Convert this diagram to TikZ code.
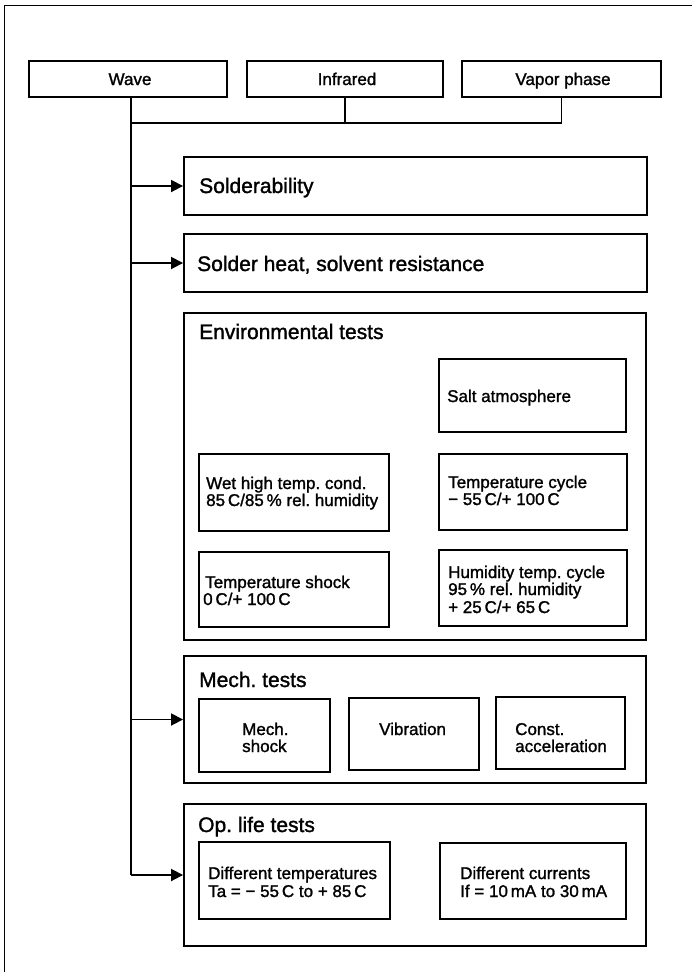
\documentclass[tikz,border=0pt]{standalone}
\usepackage{fontspec}
\setmainfont{Liberation Sans}[FakeBold=1.4]
\usetikzlibrary{arrows.meta}
\begin{document}
\frenchspacing
\begin{tikzpicture}[x=1pt,y=-1pt,
  box/.style={draw, line width=1.9pt, inner sep=0pt, rectangle},
  conn/.style={line width=1.8pt},
  arr/.style={conn, -{Triangle[length=12pt,width=12pt]}},
  frame/.style={line width=1pt},
  ttl/.style={font=\fontsize{21}{24}\selectfont, anchor=base west, inner sep=0pt},
  txt/.style={font=\fontsize{17}{19}\selectfont, anchor=base west, inner sep=0pt},
  ctr/.style={font=\fontsize{17}{19}\selectfont, anchor=base, inner sep=0pt}
]
\useasboundingbox (0,0) rectangle (692,977);
\fill[white] (0,0) rectangle (692,977);
\draw[frame] (4,972) -- (4,5) -- (692,5);

% top boxes
\node[box, minimum width=198pt, minimum height=36pt] (wave) at (128,79) {};
\node[box, minimum width=196pt, minimum height=36pt] (infra) at (345,79) {};
\node[box, minimum width=199pt, minimum height=36pt] (vapor) at (561.5,79) {};
\node[ctr] (wavet) at (130,85) {Wave};
\node[ctr] (infrat) at (347,85) {Infrared};
\node[ctr] (vaport) at (563,85) {Vapor phase};

% main boxes
\node[box, minimum width=463pt, minimum height=58pt] (sold) at (415.5,186) {};
\node[box, minimum width=463pt, minimum height=58pt] (heat) at (415.5,263) {};
\node[box, minimum width=462pt, minimum height=327pt] (env) at (415,476.5) {};
\node[box, minimum width=462pt, minimum height=127pt] (mech) at (415,719.5) {};
\node[box, minimum width=462pt, minimum height=142pt] (op) at (415,875) {};

\node[ttl] (soldt) at (199,193) {Solderability};
\node[ttl] (heatt) at (197,271) {Solder heat, solvent resistance};
\node[ttl] (envt) at (199,339) {Environmental tests};
\node[ttl] (mecht) at (199,687) {Mech. tests};
\node[ttl] (opt) at (198,832) {Op. life tests};

% environmental sub-boxes
\node[box, minimum width=187pt, minimum height=73pt] (salt) at (532.5,395.5) {};
\node[box, minimum width=190pt, minimum height=77pt] (wet) at (294,492.5) {};
\node[box, minimum width=188pt, minimum height=76pt] (tcyc) at (533,492) {};
\node[box, minimum width=190pt, minimum height=75pt] (tshock) at (294,589.5) {};
\node[box, minimum width=188pt, minimum height=76pt] (hcyc) at (533,588) {};

\node[txt] (saltt) at (447,402) {Salt atmosphere};
\node[txt] (wet1) at (206,489) {Wet high temp. cond.};
\node[txt] (wet2) at (206,506) {85\,C/85\,\% rel. humidity};
\node[txt] (tcyc1) at (448,488) {Temperature cycle};
\node[txt] (tcyc2) at (448,505) {− 55\,C/+ 100\,C};
\node[txt] (tsh1) at (205,588) {Temperature shock};
\node[txt] (tsh2) at (203,605) {0\,C/+ 100\,C};
\node[txt] (hc1) at (448,578) {Humidity temp. cycle};
\node[txt] (hc2) at (448,595) {95\,\% rel. humidity};
\node[txt] (hc3) at (448,613) {+ 25\,C/+ 65\,C};

% mech sub-boxes
\node[box, minimum width=131pt, minimum height=73pt] (mshock) at (264.5,735.5) {};
\node[box, minimum width=130pt, minimum height=72pt] (vib) at (414,734) {};
\node[box, minimum width=129pt, minimum height=72pt] (cacc) at (560.5,733) {};
\node[txt] (ms1) at (242,735) {Mech.};
\node[txt] (ms2) at (242,752) {shock};
\node[txt] (vibt) at (379,735) {Vibration};
\node[txt] (ca1) at (515,735) {Const.};
\node[txt] (ca2) at (515,752) {acceleration};

% op life sub-boxes
\node[box, minimum width=191pt, minimum height=77pt] (dtemp) at (294.5,880.5) {};
\node[box, minimum width=186pt, minimum height=76pt] (dcur) at (533,881) {};
\node[txt] (dt1) at (208,879) {Different temperatures};
\node[txt] (dt2) at (208,897) {Ta = − 55\,C to + 85\,C};
\node[txt] (dc1) at (460,879) {Different currents};
\node[txt] (dc2) at (460,897) {If = 10\,mA to 30\,mA};

% connectors
\coordinate (trunk) at (131,875);
\coordinate (bus) at (131,123);
\draw[conn] (wave.south -| trunk) -- (op.west -| trunk);
\draw[conn] (infra.south) -- (infra.south |- bus);
\draw[conn] (vapor.south) |- (bus);
\draw[arr] (sold.west -| trunk) -- (sold.west);
\draw[arr] (heat.west -| trunk) -- (heat.west);
\draw[arr] (mech.west -| trunk) -- (mech.west);
\draw[arr] (op.west -| trunk) -- (op.west);
\end{tikzpicture}
\end{document}
